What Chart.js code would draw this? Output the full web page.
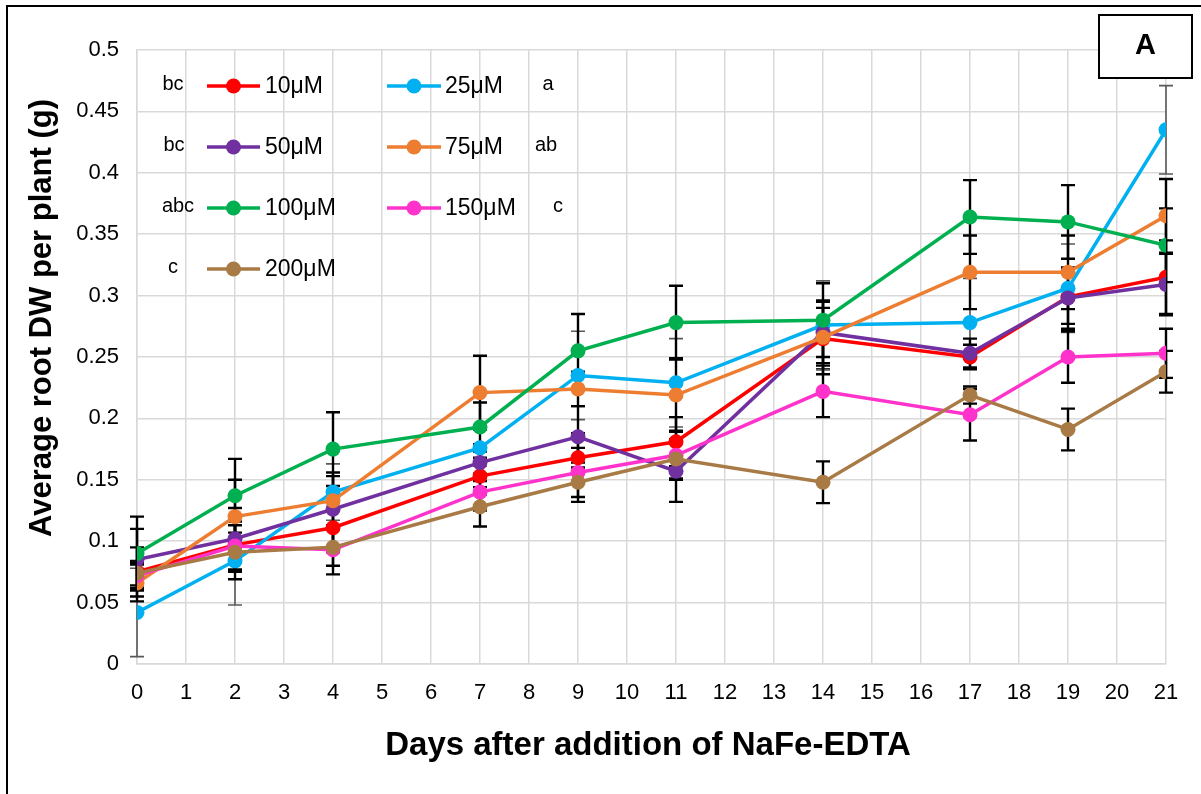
<!DOCTYPE html>
<html>
<head>
<meta charset="utf-8">
<script src="https://cdn.jsdelivr.net/npm/chart.js@4"></script>
<style>
  html, body { margin: 0; padding: 0; background: #ffffff; }
  #wrap { width: 1201px; height: 794px; }
</style>
</head>
<body>
<div id="wrap"><canvas id="c" width="1201" height="794"></canvas></div>
<script>
// Sampling days
const days = [0, 2, 4, 7, 9, 11, 14, 17, 19, 21];

// Treatment names and significance letters
const labels  = ['10μM', '25μM', '50μM', '75μM', '100μM', '150μM', '200μM'];
const letters = ['bc', 'a', 'bc', 'ab', 'abc', 'c', 'c'];

// Average root dry weight per plant (g)
const dw10  = [0.075, 0.097, 0.111, 0.153, 0.168, 0.181, 0.265, 0.250, 0.299, 0.315];
const dw25  = [0.042, 0.084, 0.140, 0.176, 0.235, 0.229, 0.276, 0.278, 0.306, 0.435];
const dw50  = [0.085, 0.102, 0.126, 0.164, 0.185, 0.157, 0.270, 0.253, 0.298, 0.309];
const dw75  = [0.066, 0.120, 0.133, 0.221, 0.224, 0.219, 0.266, 0.319, 0.319, 0.365];
const dw100 = [0.090, 0.137, 0.175, 0.193, 0.255, 0.278, 0.280, 0.364, 0.360, 0.341];
const dw150 = [0.072, 0.096, 0.093, 0.140, 0.156, 0.170, 0.222, 0.203, 0.250, 0.253];
const dw200 = [0.074, 0.091, 0.095, 0.128, 0.148, 0.167, 0.148, 0.219, 0.191, 0.238];

// Standard errors (±)
const se10  = [0.020, 0.022, 0.020, 0.015, 0.020, 0.020, 0.025, 0.010, 0.022, 0.030];
const se25  = [0.036, 0.036, 0.023, 0.015, 0.036, 0.036, 0.036, 0.036, 0.036, 0.036];
const se50  = [0.025, 0.025, 0.030, 0.015, 0.025, 0.025, 0.025, 0.012, 0.025, 0.025];
const se75  = [0.015, 0.030, 0.020, 0.030, 0.014, 0.030, 0.030, 0.030, 0.030, 0.030];
const se100 = [0.030, 0.030, 0.030, 0.020, 0.030, 0.030, 0.030, 0.030, 0.030, 0.030];
const se150 = [0.010, 0.020, 0.020, 0.015, 0.020, 0.020, 0.021, 0.021, 0.021, 0.020];
const se200 = [0.010, 0.022, 0.015, 0.016, 0.016, 0.016, 0.017, 0.007, 0.017, 0.017];

const means  = [dw10, dw25, dw50, dw75, dw100, dw150, dw200];
const errors = [se10, se25, se50, se75, se100, se150, se200];
const colors = ['#ff0000', '#00b0f0', '#7030a0', '#ed7d31', '#00b050', '#ff33cc', '#a87a45'];
const barColors = ['#000000', '#595959', '#000000', '#000000', '#000000', '#000000', '#000000'];

const FONT = '"Liberation Sans", Arial, sans-serif';

const datasets = labels.map((name, i) => ({
  label: name,
  data: days.map((d, j) => ({ x: d, y: means[i][j] })),
  borderColor: colors[i],
  backgroundColor: colors[i],
  pointBackgroundColor: colors[i],
  pointBorderColor: colors[i],
  borderWidth: 3.5,
  pointRadius: 7.5,
  pointBorderWidth: 0,
  tension: 0,
  order: labels.length - i
}));

// Vertical error bars with caps, drawn beneath the lines
const errorBars = {
  id: 'errorBars',
  beforeDatasetsDraw(chart) {
    const { ctx, scales: { x, y } } = chart;
    ctx.save();
    means.forEach((series, i) => {
      ctx.strokeStyle = barColors[i];
      ctx.lineWidth = i === 1 ? 1.6 : 2.4;
      series.forEach((v, j) => {
        const px = x.getPixelForValue(days[j]);
        const top = y.getPixelForValue(v + errors[i][j]);
        const bot = y.getPixelForValue(v - errors[i][j]);
        ctx.beginPath();
        ctx.moveTo(px, top); ctx.lineTo(px, bot);
        ctx.moveTo(px - 7, top); ctx.lineTo(px + 7, top);
        ctx.moveTo(px - 7, bot); ctx.lineTo(px + 7, bot);
        ctx.stroke();
      });
    });
    ctx.restore();
  }
};

// Frame, panel tag, in-plot legend with letters, axis titles
const decorations = {
  id: 'decorations',
  afterDraw(chart) {
    const { ctx } = chart;
    ctx.save();

    // outer frame
    ctx.strokeStyle = '#000';
    ctx.lineWidth = 2;
    ctx.strokeRect(7, 6, 1300, 900);

    // panel tag
    ctx.fillStyle = '#fff';
    ctx.fillRect(1099, 15, 93, 63);
    ctx.strokeRect(1099, 15, 93, 63);
    ctx.fillStyle = '#000';
    ctx.font = 'bold 29px ' + FONT;
    ctx.textAlign = 'center';
    ctx.textBaseline = 'middle';
    ctx.fillText('A', 1145.5, 46);

    // legend
    const rowsY = [86, 147, 208, 269];
    const cols = [
      { x1: 207, x2: 260, tx: 265 },
      { x1: 387, x2: 441, tx: 445 }
    ];
    const letterX = [[173, 548], [174, 546], [178, 558], [173, 0]];
    labels.forEach((name, i) => {
      const r = Math.floor(i / 2), c = i % 2;
      const y0 = rowsY[r], col = cols[c];
      ctx.strokeStyle = colors[i];
      ctx.lineWidth = 3.5;
      ctx.beginPath();
      ctx.moveTo(col.x1, y0); ctx.lineTo(col.x2, y0);
      ctx.stroke();
      ctx.fillStyle = colors[i];
      ctx.beginPath();
      ctx.arc((col.x1 + col.x2) / 2, y0, 7.5, 0, Math.PI * 2);
      ctx.fill();
      ctx.fillStyle = '#000';
      ctx.font = '23px ' + FONT;
      ctx.textAlign = 'left';
      ctx.textBaseline = 'middle';
      ctx.fillText(name, col.tx, y0 + 1);
      ctx.font = '20px ' + FONT;
      ctx.textAlign = 'center';
      ctx.fillText(letters[i], letterX[r][c], y0 - 2);
    });

    // axis titles
    ctx.fillStyle = '#000';
    ctx.textAlign = 'center';
    ctx.textBaseline = 'middle';
    ctx.font = 'bold 33px ' + FONT;
    ctx.fillText('Days after addition of NaFe-EDTA', 648, 746);
    ctx.translate(42, 318);
    ctx.rotate(-Math.PI / 2);
    ctx.font = 'bold 31px ' + FONT;
    ctx.fillText('Average root DW per plant (g)', 0, 0);
    ctx.restore();
  }
};

new Chart(document.getElementById('c'), {
  type: 'line',
  data: { datasets },
  options: {
    responsive: false,
    animation: false,
    devicePixelRatio: 1,
    layout: { padding: { top: 50, right: 35, left: 0, bottom: 0 } },
    plugins: { legend: { display: false }, tooltip: { enabled: false }, title: { display: false } },
    scales: {
      x: {
        type: 'linear',
        min: 0, max: 21,
        afterFit: s => { s.height = 130; },
        ticks: { stepSize: 1, autoSkip: false, maxRotation: 0, padding: 16, color: '#000', font: { family: FONT, size: 22 } },
        grid: { color: '#d9d9d9', lineWidth: 1.5, drawTicks: false },
        border: { color: '#d9d9d9', width: 1.5 }
      },
      y: {
        min: 0, max: 0.5,
        afterFit: s => { s.width = 137; },
        ticks: {
          stepSize: 0.05, padding: 18, color: '#000', font: { family: FONT, size: 22 },
          callback: v => String(parseFloat(v.toFixed(2)))
        },
        grid: { color: '#d9d9d9', lineWidth: 1.5, drawTicks: false },
        border: { color: '#d9d9d9', width: 1.5 }
      }
    }
  },
  plugins: [errorBars, decorations]
});
</script>
</body>
</html>
